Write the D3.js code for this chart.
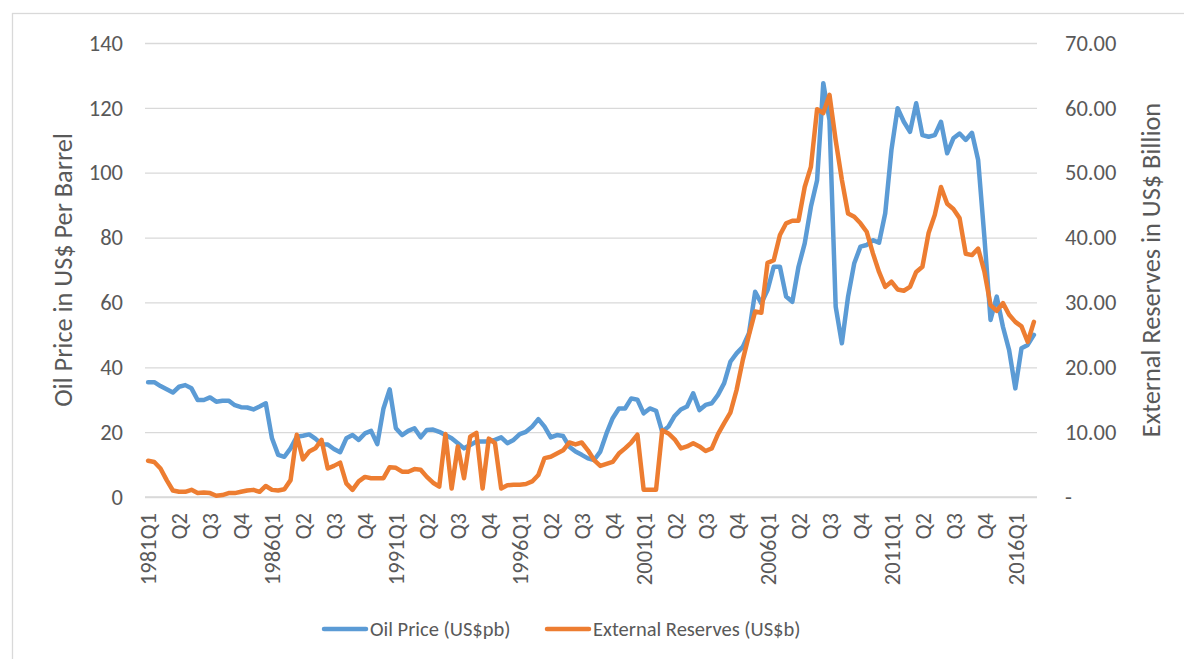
<!DOCTYPE html>
<html lang="en">
<head>
    <meta charset="UTF-8">
    <title>Oil Price and External Reserves</title>
    <script src="https://cdn.jsdelivr.net/npm/d3@7/dist/d3.min.js"></script>
    <style>
        body { margin: 0; background: #fff; }
        svg text { font-family: Carlito, Calibri, Lato, sans-serif; fill: #595959; }
        .grid line { stroke: #d9d9d9; stroke-width: 1.3; }
        .series { fill: none; stroke-width: 4.5; stroke-linejoin: round; stroke-linecap: round; }
    </style>
</head>
<body>

<svg width="1184" height="659"></svg>

<script>

    // quarterly categories, 1981Q1 .. 2016Q4
    var years = d3.range(1981, 2017);
    var quarters = ["Q1", "Q2", "Q3", "Q4"];
    var categories = [];
    years.forEach(function(y) {
        quarters.forEach(function(q) { categories.push(y + q); });
    });

    // Oil price, US$ per barrel
    var oilPrice = [
        35.4, 35.4, 34.2, 33.2, 32.2, 34.0, 34.5, 33.5, 29.9, 29.9,
        30.7, 29.4, 29.7, 29.7, 28.3, 27.7, 27.6, 27.0, 27.9, 28.9,
        18.1, 13.0, 12.4, 15.0, 18.6, 18.9, 19.3, 18.0, 16.3, 16.2,
        14.8, 13.8, 18.1, 19.1, 17.6, 19.6, 20.4, 16.3, 27.3, 33.2,
        21.2, 19.1, 20.4, 21.2, 18.4, 20.7, 20.8, 20.1, 19.1, 18.1,
        16.6, 15.0, 16.0, 17.1, 17.1, 17.1, 17.6, 18.4, 16.6, 17.6,
        19.4, 20.1, 21.7, 24.0, 21.7, 18.4, 19.1, 18.8, 15.5, 14.0,
        13.0, 11.9, 11.4, 14.0, 19.6, 24.3, 27.3, 27.3, 30.4, 30.0,
        25.8, 27.3, 26.6, 20.1, 21.7, 25.0, 27.0, 27.9, 32.0, 26.8,
        28.4, 28.9, 31.5, 35.1, 41.7, 44.3, 46.3, 50.5, 63.3, 59.7,
        63.8, 71.0, 71.0, 61.8, 60.2, 71.0, 78.2, 89.5, 97.7, 127.6,
        116.2, 58.7, 47.4, 61.8, 72.1, 77.2, 77.7, 79.2, 78.4, 87.5,
        107.0, 119.9, 115.7, 112.6, 121.4, 111.6, 111.1, 111.6, 115.7, 106.0,
        110.6, 112.1, 110.1, 112.3, 103.9, 80.3, 54.6, 61.8, 52.5, 45.3,
        33.5, 45.9, 46.9, 50.0
    ];

    // External reserves, US$ billion
    var reserves = [
        5.6, 5.4, 4.4, 2.6, 1.0, 0.8, 0.8, 1.1, 0.6, 0.7,
        0.6, 0.2, 0.3, 0.6, 0.6, 0.8, 1.0, 1.1, 0.8, 1.7,
        1.1, 1.0, 1.2, 2.6, 9.6, 5.8, 7.0, 7.5, 8.8, 4.4,
        4.8, 5.3, 2.1, 1.1, 2.4, 3.1, 2.9, 2.9, 2.9, 4.6,
        4.5, 3.9, 3.9, 4.3, 4.2, 3.1, 2.2, 1.6, 9.7, 1.3,
        7.8, 2.9, 9.3, 9.9, 1.3, 9.0, 8.3, 1.3, 1.8, 1.9,
        1.9, 2.0, 2.4, 3.4, 6.0, 6.2, 6.7, 7.2, 8.4, 8.1,
        8.4, 7.2, 5.7, 4.8, 5.1, 5.4, 6.7, 7.5, 8.4, 9.6,
        1.1, 1.1, 1.1, 10.3, 9.8, 8.9, 7.5, 7.8, 8.3, 7.8,
        7.1, 7.5, 9.7, 11.4, 13.0, 16.5, 21.1, 25.0, 28.6, 28.4,
        36.1, 36.5, 40.4, 42.2, 42.6, 42.6, 47.8, 50.9, 59.8, 59.2,
        62.0, 55.0, 48.9, 43.7, 43.2, 42.2, 40.9, 37.6, 34.7, 32.4,
        33.2, 32.0, 31.8, 32.4, 34.7, 35.5, 40.7, 43.5, 47.8, 45.2,
        44.4, 43.0, 37.5, 37.3, 38.3, 34.8, 29.6, 28.7, 29.9, 28.1,
        27.0, 26.3, 23.9, 27.0
    ];

    var leftTicks = [0, 20, 40, 60, 80, 100, 120, 140];
    var rightTicks = [0, 10, 20, 30, 40, 50, 60, 70];
    var labelEvery = 5;

    var seriesNames = ["Oil Price (US$pb)", "External Reserves (US$b)"];
    var colors = ["#5b9bd5", "#ed7d31"];

    var plot = { left: 145, right: 1037, top: 43, bottom: 497 };
    var tickFont = "22.5px", titleFont = "26.3px", legendFont = "20.5px";

    var svg = d3.select("svg");

    // chart frame (only top/left edges fall inside the picture)
    svg.append("rect")
            .attr("x", 12.5).attr("y", 13.5)
            .attr("width", 1200).attr("height", 700)
            .attr("fill", "none")
            .attr("stroke", "#d9d9d9")
            .attr("stroke-width", 1.3);

    var x = d3.scalePoint()
            .domain(categories)
            .range([plot.left, plot.right])
            .padding(0.5);

    var yLeft = d3.scaleLinear().domain([0, 140]).range([plot.bottom, plot.top]);
    var yRight = d3.scaleLinear().domain([0, 70]).range([plot.bottom, plot.top]);

    // gridlines
    svg.append("g")
            .attr("class", "grid")
            .attr("transform", "translate(" + plot.left + ",0)")
            .call(d3.axisLeft(yLeft).tickValues(leftTicks).tickSize(-(plot.right - plot.left)).tickFormat(""))
            .call(function(g) { g.select(".domain").remove(); });

    // left axis labels
    svg.append("g")
            .attr("transform", "translate(" + plot.left + ",0)")
            .call(d3.axisLeft(yLeft).tickValues(leftTicks).tickSize(0).tickPadding(22))
            .call(function(g) {
                g.select(".domain").remove();
                g.selectAll("text").style("font-size", tickFont).attr("fill", "#595959");
            });

    // right axis labels
    svg.append("g")
            .attr("transform", "translate(" + plot.right + ",0)")
            .call(d3.axisRight(yRight).tickValues(rightTicks).tickSize(0).tickPadding(28)
                    .tickFormat(function(d) { return d === 0 ? "-" : d.toFixed(2); }))
            .call(function(g) {
                g.select(".domain").remove();
                g.selectAll("text").style("font-size", tickFont).attr("fill", "#595959");
            });

    // category axis
    var tickCats = categories.filter(function(d, i) { return i % labelEvery === 0; });
    svg.append("g")
            .attr("transform", "translate(0," + plot.bottom + ")")
            .call(d3.axisBottom(x).tickValues(tickCats).tickSize(0)
                    .tickFormat(function(d) { return d.slice(4) === "Q1" ? d : d.slice(4); }))
            .call(function(g) {
                g.select(".domain")
                        .attr("d", "M" + plot.left + ",0H" + plot.right)
                        .attr("stroke", "#d9d9d9")
                        .attr("stroke-width", 1.3);
                g.selectAll("text")
                        .style("font-size", tickFont)
                        .attr("fill", "#595959")
                        .attr("transform", "rotate(-90)")
                        .attr("text-anchor", "end")
                        .attr("x", -16)
                        .attr("y", 0)
                        .attr("dy", "0.35em");
            });

    // axis titles
    svg.append("text")
            .attr("transform", "translate(72," + ((plot.top + plot.bottom) / 2) + ") rotate(-90)")
            .attr("text-anchor", "middle")
            .style("font-size", titleFont)
            .text("Oil Price in US$ Per Barrel");

    svg.append("text")
            .attr("transform", "translate(1160," + ((plot.top + plot.bottom) / 2) + ") rotate(-90)")
            .attr("text-anchor", "middle")
            .style("font-size", titleFont)
            .text("External Reserves in US$ Billion");

    // series
    var oilLine = d3.line()
            .x(function(d, i) { return x(categories[i]); })
            .y(function(d) { return yLeft(d); });

    var resLine = d3.line()
            .x(function(d, i) { return x(categories[i]); })
            .y(function(d) { return yRight(d); });

    svg.append("path")
            .datum(oilPrice)
            .attr("class", "series")
            .attr("stroke", colors[0])
            .attr("d", oilLine);

    svg.append("path")
            .datum(reserves)
            .attr("class", "series")
            .attr("stroke", colors[1])
            .attr("d", resLine);

    // legend
    var legendX = [322, 545];
    var legend = svg.append("g")
            .selectAll("g")
            .data(seriesNames)
            .enter()
            .append("g")
            .attr("transform", function(d, i) { return "translate(" + legendX[i] + ",629)"; });

    legend.append("line")
            .attr("x1", 2).attr("x2", 44)
            .attr("stroke", function(d, i) { return colors[i]; })
            .attr("stroke-width", 4.5)
            .attr("stroke-linecap", "round");

    legend.append("text")
            .attr("x", 48)
            .attr("dy", "0.35em")
            .style("font-size", legendFont)
            .text(function(d) { return d; });

</script>

</body>
</html>
